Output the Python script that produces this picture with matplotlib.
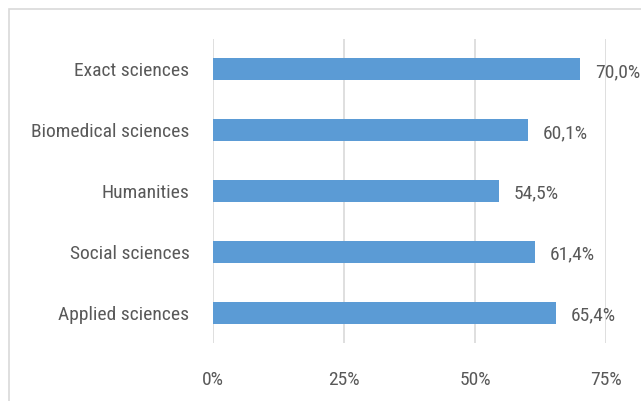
import matplotlib
matplotlib.use("Agg")
import matplotlib.pyplot as plt
from matplotlib.patches import Rectangle
from matplotlib.ticker import FuncFormatter

categories = ["Applied sciences", "Social sciences", "Humanities", "Biomedical sciences", "Exact sciences"]
values = [65.4, 61.4, 54.5, 60.1, 70.0]
xticks = [0, 25, 50, 75]

plt.rcParams['font.family'] = ['Roboto Condensed', 'DejaVu Sans']
text_color = "#595959"

fig = plt.figure(figsize=(6.41, 4.01), dpi=100)
fig.patches.append(Rectangle((9/641, -0.1), 1.2, 1 - 9/401 + 0.1, transform=fig.transFigure,
                             fill=False, edgecolor="#D9D9D9", linewidth=1.2))
ax = fig.add_axes([213/641, 1 - 343/401, (606 - 213)/641, (343 - 39)/401])

y = range(len(categories))
bars = ax.barh(y, values, height=0.36, color="#5B9BD5", zorder=3)
ax.set_ylim(-0.5, len(categories) - 0.5)
ax.set_xlim(0, 75)
ax.set_xticks(xticks)
ax.xaxis.set_major_formatter(FuncFormatter(lambda v, p: f"{int(v)}%"))
ax.set_yticks(list(y))
ax.set_yticklabels(categories)
ax.tick_params(axis='both', length=0, labelsize=14, colors=text_color)
ax.tick_params(axis='y', pad=17)
ax.tick_params(axis='x', pad=20)
ax.grid(axis='x', color="#D9D9D9", linewidth=1.2, zorder=0)
for s in ax.spines.values():
    s.set_visible(False)

for b, v in zip(bars, values):
    ax.annotate(f"{v:.1f}%".replace(".", ","), (b.get_width(), b.get_y() + b.get_height()/2),
                xytext=(11, -2), textcoords="offset points", ha="left", va="center",
                fontsize=14, color=text_color, annotation_clip=False)

fig.savefig("out.png", dpi=100)
